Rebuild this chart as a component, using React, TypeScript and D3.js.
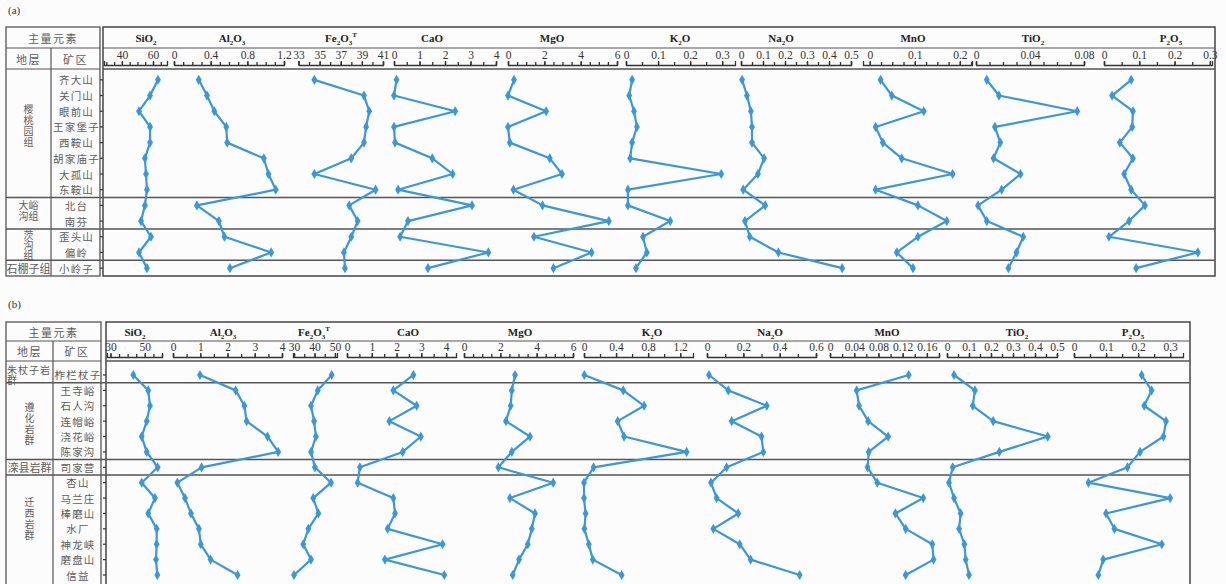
import React, { useEffect, useRef } from 'react';
import * as d3 from 'd3';

const BLUE = '#3a98d8';
const LINE = '#555';

const oxides = ['SiO_2', 'Al_2O_3', 'Fe_2O_3^T', 'CaO', 'MgO', 'K_2O', 'Na_2O', 'MnO', 'TiO_2', 'P_2O_5'];

// ---- panel (a) ----
const minesA = ['齐大山', '关门山', '眼前山', '王家堡子', '西鞍山', '胡家庙子', '大孤山', '东鞍山', '北台', '南芬', '歪头山', '偏岭', '小岭子'];
const groupsA = [
  { lines: ['樱', '桃', '园', '组'], from: 0, to: 7 },
  { lines: ['大峪', '沟组'], from: 8, to: 9 },
  { lines: ['茨', '沟', '组'], from: 10, to: 11 },
  { lines: ['石棚子组'], from: 12, to: 12 },
];
const sio2A = [63.2, 58.1, 51.0, 58.1, 58.1, 54.8, 55.5, 56.1, 54.8, 52.3, 58.7, 51.0, 56.1];
const al2o3A = [0.27, 0.36, 0.44, 0.57, 0.58, 0.98, 1.03, 1.11, 0.25, 0.49, 0.55, 1.06, 0.61];
const fe2o3A = [34.5, 39.2, 39.7, 39.4, 39.2, 38.0, 34.5, 40.3, 37.8, 38.6, 38.0, 37.3, 37.4];
const caoA = [0.1, 0.0, 2.4, 0.0, 0.04, 1.5, 2.3, 0.16, 3.06, 0.55, 0.24, 3.7, 1.33];
const mgoA = [0.33, 0.0, 2.1, 0.0, 0.1, 2.3, 2.97, 0.3, 1.9, 5.55, 1.43, 4.6, 2.5];
const k2oA = [0.019, 0.01, 0.025, 0.034, 0.019, 0.013, 0.297, 0.006, 0.006, 0.138, 0.053, 0.065, 0.031];
const na2oA = [0.005, 0.027, 0.045, 0.05, 0.05, 0.105, 0.077, 0.01, 0.11, 0.018, 0.04, 0.17, 0.46];
const mnoA = [0.024, 0.049, 0.12, 0.013, 0.029, 0.071, 0.184, 0.013, 0.107, 0.171, 0.107, 0.06, 0.096];
const tio2A = [0.008, 0.017, 0.075, 0.014, 0.018, 0.013, 0.033, 0.019, 0.0015, 0.008, 0.035, 0.03, 0.024];
const p2o5A = [0.077, 0.023, 0.082, 0.08, 0.045, 0.082, 0.057, 0.077, 0.116, 0.071, 0.014, 0.266, 0.091];
const ticksA = [[40, 60], [0, 0.4, 0.8, 1.2], [33, 35, 37, 39, 41], [0, 1, 2, 3, 4], [0, 2, 4, 6], [0, 0.1, 0.2, 0.3], [0, 0.1, 0.2, 0.3, 0.4, 0.5], [0, 0.1, 0.2], [0, 0.04, 0.08], [0, 0.1, 0.2, 0.3]];

// ---- panel (b) ----
const minesB = ['柞栏杖子', '王寺峪', '石人沟', '连帽峪', '浇花峪', '陈家沟', '司家营', '杏山', '马兰庄', '棒磨山', '水厂', '神龙峡', '磨盘山', '信益'];
const groupsB = [
  { lines: ['朱杖子岩', '群'], from: 0, to: 0 },
  { lines: ['遵', '化', '岩', '群'], from: 1, to: 5 },
  { lines: ['滦县岩群'], from: 6, to: 6 },
  { lines: ['迁', '西', '岩', '群'], from: 7, to: 13 },
];
const sio2B = [43.3, 52.0, 53.0, 51.1, 48.2, 51.1, 57.5, 48.2, 55.9, 52.0, 56.9, 56.9, 56.5, 57.3];
const al2o3B = [0.99, 2.3, 2.62, 2.7, 3.47, 3.86, 1.05, 0.16, 0.44, 0.66, 0.95, 1.02, 1.38, 2.37];
const fe2o3B = [48.4, 41.6, 38.3, 39.8, 40.7, 38.3, 40.2, 48.1, 39.4, 41.9, 37.0, 34.5, 38.3, 30.0];
const caoB = [2.68, 1.87, 2.81, 1.71, 2.98, 2.25, 0.52, 0.43, 1.87, 1.94, 1.64, 3.86, 1.53, 3.93];
const mgoB = [2.81, 2.63, 2.57, 2.31, 3.63, 2.63, 1.89, 4.91, 2.53, 3.91, 3.73, 3.51, 3.03, 2.68];
const k2oB = [0.004, 0.49, 0.75, 0.42, 0.5, 1.28, 0.12, 0.0, 0.0, 0.02, 0.005, 0.06, 0.11, 0.47];
const na2oB = [0.011, 0.117, 0.329, 0.136, 0.3, 0.31, 0.108, 0.022, 0.053, 0.172, 0.035, 0.18, 0.24, 0.51];
const mnoB = [0.13, 0.044, 0.048, 0.063, 0.096, 0.064, 0.062, 0.078, 0.154, 0.108, 0.125, 0.169, 0.171, 0.125];
const tio2B = [0.032, 0.127, 0.117, 0.21, 0.458, 0.238, 0.026, 0.009, 0.032, 0.062, 0.055, 0.079, 0.085, 0.1];
const p2o5B = [0.211, 0.242, 0.219, 0.287, 0.279, 0.206, 0.167, 0.045, 0.3, 0.1, 0.126, 0.274, 0.091, 0.076];
const ticksB = [[30, 50], [0, 1, 2, 3, 4], [30, 40, 50], [0, 1, 2, 3, 4], [0, 2, 4, 6], [0, 0.4, 0.8, 1.2], [0, 0.2, 0.4, 0.6], [0, 0.04, 0.08, 0.12, 0.16], [0, 0.1, 0.2, 0.3, 0.4, 0.5], [0, 0.1, 0.2, 0.3]];

// layout of each panel (scale extents, minor tick step, title x)
const panelA = {
  label: '(a)', labelY: 14,
  top: 27, line1: 48, line2: 69, axisY: 65, bottom: 276,
  tx0: 6, tcol: 51, tx1: 100, cx0: 103, cx1: 1215,
  rowsTop: 72, rowsBottom: 276,
  mines: minesA, groups: groupsA, groupDy: [-10, -3, 0, 0], groupLh: [11, 11, 10, 11],
  series: [sio2A, al2o3A, fe2o3A, caoA, mgoA, k2oA, na2oA, mnoA, tio2A, p2o5A],
  ticks: ticksA,
  axes: [
    { domain: [28.5, 69], range: [104, 167], step: 5, titleX: 146 },
    { domain: [0, 1.2], range: [174, 284], step: 0.1, titleX: 232 },
    { domain: [33, 41], range: [298.5, 383], step: 1, titleX: 341 },
    { domain: [0, 4], range: [394, 496], step: 0.5, titleX: 432 },
    { domain: [0, 6], range: [508, 617], step: 0.5, titleX: 552 },
    { domain: [0, 0.34], range: [626, 735], step: 0.05, titleX: 680 },
    { domain: [0, 0.5], range: [741, 851], step: 0.05, titleX: 781 },
    { domain: [-0.015, 0.227], range: [863, 972], step: 0.025, titleX: 913 },
    { domain: [0, 0.08], range: [976, 1084], step: 0.01, titleX: 1033 },
    { domain: [0, 0.306], range: [1104, 1212], step: 0.05, titleX: 1171 },
  ],
};

const panelB = {
  label: '(b)', labelY: 308,
  top: 322, line1: 341, line2: 361, axisY: 357, bottom: 592,
  tx0: 6, tcol: 53, tx1: 101, cx0: 106, cx1: 1190,
  rowsTop: 367.3, rowsBottom: 582.7,
  mines: minesB, groups: groupsB, groupDy: [-0.5, 2, 0, -11], groupLh: [10, 11, 11, 11],
  series: [sio2B, al2o3B, fe2o3B, caoB, mgoB, k2oB, na2oB, mnoB, tio2B, p2o5B],
  ticks: ticksB,
  axes: [
    { domain: [28, 60], range: [107, 162], step: 5, titleX: 135 },
    { domain: [0, 4], range: [173, 282], step: 0.5, titleX: 223 },
    { domain: [29.5, 51], range: [293, 337], step: 5, titleX: 314 },
    { domain: [0, 4.4], range: [347, 456], step: 0.5, titleX: 408 },
    { domain: [0, 6], range: [464, 573], step: 0.5, titleX: 520 },
    { domain: [0, 1.36], range: [584, 693], step: 0.2, titleX: 652 },
    { domain: [0, 0.6], range: [707, 816], step: 0.1, titleX: 770 },
    { domain: [0, 0.18], range: [830, 939], step: 0.02, titleX: 887 },
    { domain: [0, 0.5], range: [947, 1057], step: 0.05, titleX: 1017 },
    { domain: [0, 0.34], range: [1074, 1183], step: 0.05, titleX: 1133 },
  ],
};

const CJK = '"Noto Sans CJK SC", sans-serif';
const SERIF = '"Liberation Serif", "DejaVu Serif", serif';

function formula(sel: any, f: string) {
  const parts: { t: string; m: number }[] = [];
  for (let i = 0; i < f.length; i++) {
    const c = f[i];
    if (c === '_') parts.push({ t: f[++i], m: 1 });
    else if (c === '^') parts.push({ t: f[++i], m: 2 });
    else {
      const last = parts[parts.length - 1];
      if (last && last.m === 0) last.t += c;
      else parts.push({ t: c, m: 0 });
    }
  }
  let cur = 0;
  parts.forEach(p => {
    const target = p.m === 1 ? 3 : p.m === 2 ? -5 : 0;
    sel.append('tspan').attr('dy', target - cur).attr('font-size', p.m ? 7 : 11).text(p.t);
    cur = target;
  });
}

function hline(g: any, x0: number, x1: number, y: number, w = 1.2) {
  g.append('line').attr('x1', x0).attr('x2', x1).attr('y1', y).attr('y2', y)
    .attr('stroke', LINE).attr('stroke-width', w);
}

function drawPanel(svg: any, p: any) {
  const g = svg.append('g');

  g.append('text').attr('x', 8).attr('y', p.labelY).attr('font-family', SERIF)
    .attr('font-size', 11).attr('fill', '#333').text(p.label);

  const y = d3.scaleBand().domain(p.mines).range([p.rowsTop, p.rowsBottom]);
  const bw = y.bandwidth();
  const yc = (i: number) => (y(p.mines[i]) as number) + bw / 2;

  // table frame
  g.append('rect').attr('x', p.tx0).attr('y', p.top).attr('width', p.tx1 - p.tx0)
    .attr('height', p.bottom - p.top).attr('fill', 'none').attr('stroke', LINE).attr('stroke-width', 1.3);
  hline(g, p.tx0, p.tx1, p.line1);
  hline(g, p.tx0, p.tx1, p.line2);
  g.append('line').attr('x1', p.tcol).attr('x2', p.tcol).attr('y1', p.line1).attr('y2', p.bottom)
    .attr('stroke', LINE).attr('stroke-width', 1.2);

  // chart frame
  g.append('rect').attr('x', p.cx0).attr('y', p.top).attr('width', p.cx1 - p.cx0)
    .attr('height', p.bottom - p.top).attr('fill', 'none').attr('stroke', '#444').attr('stroke-width', 1.5);
  hline(g, p.cx0, p.cx1, p.line1);
  hline(g, p.cx0, p.cx1, p.line2, 1.5);

  // header text
  const txt = (x: number, yy: number, s: string, anchor = 'middle') =>
    g.append('text').attr('x', x).attr('y', yy).attr('text-anchor', anchor)
      .attr('dominant-baseline', 'central').attr('font-family', CJK).attr('font-size', 11)
      .attr('fill', '#5c5c5c').attr('letter-spacing', 1.5).text(s);
  txt((p.tx0 + p.tx1) / 2, (p.top + p.line1) / 2, '主量元素');
  txt((p.tx0 + p.tcol) / 2, (p.line1 + p.line2) / 2, '地层');
  txt((p.tcol + p.tx1) / 2, (p.line1 + p.line2) / 2, '矿区');

  // row labels
  p.mines.forEach((m: string, i: number) => {
    txt((p.tcol + p.tx1) / 2 + 1, yc(i), m).attr('font-size', 10.5).attr('letter-spacing', 1.2);
  });

  // group cells + separators
  p.groups.forEach((gr: any, k: number) => {
    const y0 = y(p.mines[gr.from]) as number;
    const y1 = (y(p.mines[gr.to]) as number) + bw;
    if (k < p.groups.length - 1) hline(g, p.tx0, p.cx1, y1, 1.5);
    const lh = p.groupLh[k];
    const mid = (y0 + y1) / 2 + p.groupDy[k];
    const multiWide = gr.lines.length === 2 && gr.lines[0].length > 2;
    gr.lines.forEach((ln: string, j: number) => {
      const yy = mid + (j - (gr.lines.length - 1) / 2) * lh;
      if (multiWide) txt(p.tx0 + 1, yy, ln, 'start').attr('font-size', 10).attr('letter-spacing', 1);
      else if (ln.length > 2) txt((p.tx0 + p.tcol) / 2, yy, ln).attr('letter-spacing', 0);
      else txt((p.tx0 + p.tcol) / 2, yy, ln).attr('font-size', 10).attr('letter-spacing', 0);
    });
  });

  // row ticks on the left edge of the chart box
  const ya = g.append('g').attr('transform', `translate(${p.cx0},0)`)
    .call(d3.axisLeft(y).tickSize(3).tickSizeOuter(0).tickFormat(() => ''));
  ya.select('.domain').remove();
  ya.selectAll('line').attr('stroke', '#333').attr('stroke-width', 1.2);

  // oxide columns
  p.axes.forEach((ax: any, k: number) => {
    const x = d3.scaleLinear().domain(ax.domain).range(ax.range);

    const t = g.append('text').attr('x', ax.titleX).attr('y', (p.top + p.line1) / 2 + 4)
      .attr('text-anchor', 'middle').attr('font-family', SERIF).attr('font-weight', 'bold')
      .attr('fill', '#222');
    formula(t, oxides[k]);

    const minor = d3.range(Math.ceil(ax.domain[0] / ax.step - 1e-9), Math.floor(ax.domain[1] / ax.step + 1e-9) + 1)
      .map(n => +(n * ax.step).toFixed(6));
    const mg = g.append('g').attr('transform', `translate(0,${p.axisY})`)
      .call(d3.axisTop(x).tickValues(minor).tickSize(3).tickSizeOuter(4).tickFormat(() => ''));
    mg.selectAll('path,line').attr('stroke', '#333').attr('stroke-width', 1.3);

    const lg = g.append('g').attr('transform', `translate(0,${p.axisY})`)
      .call(d3.axisTop(x).tickValues(p.ticks[k]).tickSize(4).tickPadding(2).tickFormat((d: any) => String(d)));
    lg.select('.domain').remove();
    lg.attr('font-family', SERIF).attr('font-size', 11.5);
    lg.selectAll('line').attr('stroke', '#333').attr('stroke-width', 1.3);
    lg.selectAll('text').attr('fill', '#333');

    const vals: number[] = p.series[k];
    const line = d3.line<number>().x(v => x(v)).y((_v, i) => yc(i));
    g.append('path').datum(vals).attr('d', line).attr('fill', 'none')
      .attr('stroke', BLUE).attr('stroke-width', 2.2).attr('stroke-linejoin', 'round');
    g.append('g').selectAll('path').data(vals).enter().append('path')
      .attr('d', d3.symbol(d3.symbolDiamond, 30)())
      .attr('transform', (v: number, i: number) => `translate(${x(v)},${yc(i)})`)
      .attr('fill', BLUE);
  });
}

export default function App() {
  const ref = useRef<SVGSVGElement>(null);

  useEffect(() => {
    const svg = d3.select(ref.current);
    svg.selectAll('*').remove();
    drawPanel(svg, panelA);
    drawPanel(svg, panelB);
  }, []);

  return (
    <svg ref={ref} width={1226} height={584}
      style={{ position: 'absolute', left: 0, top: 0, background: '#fcfcfc' }} />
  );
}
